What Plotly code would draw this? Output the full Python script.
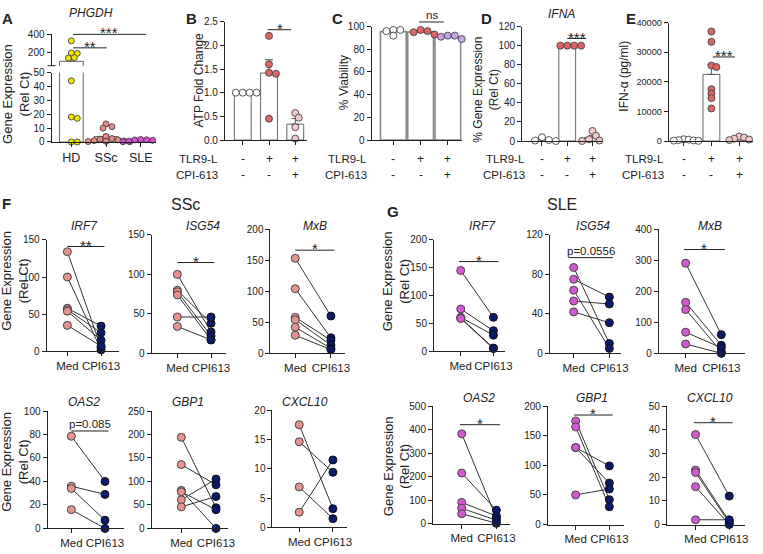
import numpy as np
import plotly.graph_objects as go

W, H = 763, 554
FONT = "Arial, Liberation Sans, Helvetica, sans-serif"
INK = "#222222"

# ======================= DATA =======================
A_LABELS = ["HD", "SSc", "SLE"]
A_HD = [330, 200, 195, 150, 145, 44, 18, 17, 0, 0]
A_SSC = [13, 11, 10, 4, 2.5, 2, 1.5, 1, 0.8, 0.5, 0.3, 0.2]
A_SLE = [1.8, 1.6, 1.5, 1.2, 0.6, 0.4, 0.2, 0.1]

TLR9L_ROW = ["-", "+", "+"]
CPI613_ROW = ["-", "-", "+"]

B_CTRL = [1.0, 1.0, 1.0, 1.0]
B_TLR9 = [2.2, 1.6, 1.42, 1.4, 0.45]
B_CPI = [0.57, 0.47, 0.27, 0.03]

C_CTRL = [97, 97, 96, 92]
C_TLR9 = [97, 96, 95, 93]
C_CPI = [92, 92, 91, 89]

D_CTRL = [4, 1, 0.5, 0]
D_TLR9 = [100, 100, 100, 100]
D_CPI = [10.5, 5.5, 1.7, 0.5, 0]

E_CTRL = [600, 450, 300, 200, 150, 50]
E_TLR9 = [37000, 33500, 25500, 25000, 17500, 16000, 14500, 11000]
E_CPI = [1500, 1200, 800, 500, 300, 200]

PAIR_LABELS = ["Med", "CPI613"]

SSC_IRF7_MED = [134, 100, 58, 56, 54, 35]
SSC_IRF7_CPI = [5, 2, 34, 25, 15, 7]
SSC_ISG54_MED = [100, 80, 78, 74, 46, 34]
SSC_ISG54_CPI = [27, 38, 22, 17, 46, 17]
SSC_MXB_MED = [153, 104, 58, 54, 42, 29]
SSC_MXB_CPI = [60, 25, 21, 13, 8, 6]
SSC_OAS2_MED = [78.5, 36, 34, 16]
SSC_OAS2_CPI = [40, 29, 7, 0]
SSC_GBP1_MED = [194, 136, 81, 78, 61, 46]
SSC_GBP1_CPI = [44, 93, 0, 40, 105, 68]
SSC_CXCL10_MED = [17.5, 14.6, 6.9, 2.6]
SSC_CXCL10_CPI = [3.2, 9.4, 1.5, 11.5]

SLE_IRF7_MED = [145, 76, 61, 60, 59]
SLE_IRF7_CPI = [61, 37, 29, 6, 5]
SLE_ISG54_MED = [87, 75, 64, 53, 42]
SLE_ISG54_CPI = [10, 57, 5, 50, 31]
SLE_MXB_MED = [290, 164, 141, 68, 30]
SLE_MXB_CPI = [60, 26, 5, 18, 0]
SLE_OAS2_MED = [382, 215, 90, 65, 42]
SLE_OAS2_CPI = [24, 57, 32, 14, 1]
SLE_GBP1_MED = [175, 165, 130, 130, 50]
SLE_GBP1_CPI = [42, 30, 99, 70, 60]
SLE_CXCL10_MED = [38, 23, 22, 16, 2]
SLE_CXCL10_CPI = [12, 1.4, 0.7, 0, 2]

# ======================= STYLE / HELPERS =======================
layout = dict(width=W, height=H, margin=dict(l=0, r=0, t=0, b=0),
              paper_bgcolor="white", plot_bgcolor="rgba(0,0,0,0)",
              showlegend=False, font=dict(family=FONT, color=INK))
traces, shapes, annots = [], [], []
AXN = {"n": 0}


def axstyle():
    return dict(showline=True, linecolor=INK, linewidth=1, ticks="outside",
                ticklen=4, tickwidth=1, tickcolor=INK, showgrid=False,
                zeroline=False, fixedrange=True, tickangle=0)


class Panel:
    def __init__(self, geom, yr, yticks, ncat, xtext=None, xfont=12,
                 yfmt=None, yfont=10):
        left, right, top, bottom, c0, c1 = geom
        AXN["n"] += 1
        i = AXN["n"]
        s = "" if i == 1 else str(i)
        self.xa, self.ya = "x" + s, "y" + s
        self.ppx = c1 - c0
        self.xr = [-(c0 - left) / self.ppx, (right - c0) / self.ppx]
        self.xd = [left / W, right / W]
        self.yd = [1 - bottom / H, 1 - top / H]
        self.yr = list(yr)
        self.ppy = (bottom - top) / (yr[1] - yr[0])
        xa = axstyle()
        xa.update(domain=self.xd, range=self.xr, anchor=self.ya,
                  tickvals=list(range(ncat)))
        if xtext is None:
            xa.update(showticklabels=False)
        else:
            xa.update(ticktext=xtext, tickfont=dict(size=xfont, color=INK))
        ya = axstyle()
        ya.update(domain=self.yd, range=self.yr, anchor=self.xa,
                  tickvals=yticks, tickfont=dict(size=yfont, color=INK))
        if yfmt:
            ya.update(tickformat=yfmt)
        layout["xaxis" + s] = xa
        layout["yaxis" + s] = ya

    def px(self, v):
        return self.xd[0] + (v - self.xr[0]) / (self.xr[1] - self.xr[0]) * (self.xd[1] - self.xd[0])

    def py(self, v):
        return self.yd[0] + (v - self.yr[0]) / (self.yr[1] - self.yr[0]) * (self.yd[1] - self.yd[0])


def swarm(vals, ppy, ppx, d):
    vals = np.asarray(vals, float)
    order = np.argsort(-vals, kind="stable")
    placed = []
    off = np.zeros(len(vals))
    steps = [0.0]
    for k in range(1, 40):
        steps += [k * d * 0.5, -k * d * 0.5]
    for i in order:
        y = vals[i] * ppy
        for st in steps:
            if all((st - a) ** 2 + (y - b) ** 2 >= (0.8 * d) ** 2 for a, b in placed):
                off[i] = st / ppx
                placed.append((st, y))
                break
    return off


def sem(v):
    v = np.asarray(v, float)
    return float(np.std(v, ddof=1) / np.sqrt(len(v))) if len(v) > 1 else 0.0


def text(x, y, t, size=12, **kw):
    d = dict(xref="paper", yref="paper", x=x / W, y=1 - y / H, text=t,
             showarrow=False, xanchor="center", yanchor="middle",
             font=dict(size=size, color=INK, family=FONT))
    d.update(kw)
    annots.append(d)


def sig_paper(X0, X1, Y, label):
    shapes.append(dict(type="line", xref="paper", yref="paper", x0=X0, x1=X1,
                       y0=Y, y1=Y, line=dict(color=INK, width=1)))
    if "*" in label:
        annots.append(dict(xref="paper", yref="paper", x=(X0 + X1) / 2, y=Y + 1.5 / H,
                           text=label, showarrow=False, xanchor="center", yanchor="middle",
                           font=dict(size=15, color=INK, family=FONT)))
    else:
        annots.append(dict(xref="paper", yref="paper", x=(X0 + X1) / 2, y=Y - 1.5 / H,
                           text=label, showarrow=False, xanchor="center", yanchor="bottom",
                           font=dict(size=11.5, color=INK, family=FONT)))


def sig(p, x0, x1, yv, label):
    sig_paper(p.px(x0), p.px(x1), p.py(yv), label)


def letter(x, y, t):
    text(x, y, "<b>%s</b>" % t, size=15, xanchor="left", yanchor="top")


def ytitle(x, y, t, size=12.5):
    text(x, y, t, size=size, textangle=-90)


# ======================= PANEL A (broken axis) =======================
pa = Panel((52, 157, 68, 139, 72, 107), [0, 50], [0, 10, 20, 30, 40, 50], 3,
           xtext=A_LABELS, xfont=12.5)
UP_TOP, UP_BOT = 29, 61
up_min = 400 - (UP_BOT - UP_TOP) * (200 / (48.3 - 29.3))
ya_up = axstyle()
ya_up.update(domain=[1 - UP_BOT / H, 1 - UP_TOP / H], range=[up_min, 400],
             anchor=pa.xa, tickvals=[200, 400], tickfont=dict(size=10, color=INK))
layout["yaxis99"] = ya_up
up_ppy = (UP_BOT - UP_TOP) / (400 - up_min)
shapes.append(dict(type="line", xref="paper", yref="paper", x0=48 / W, x1=56 / W,
                   y0=1 - UP_BOT / H, y1=1 - UP_BOT / H, line=dict(color=INK, width=1)))

a_groups = [A_HD, A_SSC, A_SLE]
a_cols = ["#f2e500", "#e8898a", "#d24fd0"]
for gi, (vals, col) in enumerate(zip(a_groups, a_cols)):
    m, e = float(np.mean(vals)), sem(vals)
    for ya in [pa.ya, "y99"]:
        traces.append(go.Bar(x=[gi], y=[m], width=24 / pa.ppx, xaxis=pa.xa, yaxis=ya,
                             marker=dict(color="white", line=dict(color="#666", width=1)),
                             error_y=dict(type="data", array=[e], arrayminus=[0], symmetric=False,
                                          color="#666", thickness=1, width=3)))
    lo = [v for v in vals if v <= 50]
    hi = [v for v in vals if v > 60]
    if lo:
        off = swarm(lo, pa.ppy, pa.ppx, 6)
        traces.append(go.Scatter(x=gi + off, y=lo, mode="markers", xaxis=pa.xa, yaxis=pa.ya,
                                 cliponaxis=False,
                                 marker=dict(size=6, color=col, line=dict(color="#333", width=0.8))))
    if hi:
        off = swarm(hi, up_ppy, pa.ppx, 6)
        traces.append(go.Scatter(x=gi + off, y=hi, mode="markers", xaxis=pa.xa, yaxis="y99",
                                 cliponaxis=False,
                                 marker=dict(size=6, color=col, line=dict(color="#333", width=0.8))))


def up_py(v):
    return (1 - UP_BOT / H) + (v - up_min) / (400 - up_min) * ((UP_BOT - UP_TOP) / H)


for x0, x1, yv, lab in [(0.05, 2.15, 400, "***"), (0.05, 1.02, 255, "**")]:
    sig_paper(pa.px(x0), pa.px(x1), up_py(yv), lab)
letter(0, 2, "A")
text(92, 7, "<i>PHGDH</i>", size=12)
ytitle(16, 90, "Gene Expression<br>(Rel Ct)", size=13)

# ======================= PANELS B-E =======================
RED, PINK, WHITE, LAV = "#e06464", "#f4c8c8", "#ffffff", "#c9a3e8"
bar_panels = [
    dict(L="B", groups=[B_CTRL, B_TLR9, B_CPI], cols=[WHITE, RED, PINK],
         geom=(227, 310, 16, 137, 245, 271.5), yr=[0, 2.5], yt=[0, 0.5, 1, 1.5, 2, 2.5], fmt=".1f",
         barw=17, bline=("#666", 1), title="ATP Fold Change", tx=201, ty=76, lx=186,
         sig=(0.95, 1.85, 2.33, "*"), rx=222, gene=None, yfont=10, sd=7),
    dict(L="C", groups=[C_CTRL, C_TLR9, C_CPI], cols=[WHITE, RED, LAV],
         geom=(375, 466, 21, 137, 397, 424.5), yr=[0, 100], yt=[0, 20, 40, 60, 80, 100], fmt=None,
         barw=26, bline=("#888", 1.6), title="% Viability", tx=347, ty=78, lx=333,
         sig=(0.95, 1.85, 104, "ns"), rx=372, gene=None, yfont=10, sd=7),
    dict(L="D", groups=[D_CTRL, D_TLR9, D_CPI], cols=[WHITE, RED, PINK],
         geom=(527, 608, 21, 138, 547, 572.5), yr=[0, 120], yt=[0, 20, 40, 60, 80, 100, 120], fmt=None,
         barw=17, bline=("#666", 1), title="% Gene Expression<br>(Rel Ct)", tx=491, ty=85, lx=483,
         sig=(1.0, 1.75, 107.5, "***"), rx=532, gene=("IFNA", 567), yfont=10, sd=7),
    dict(L="E", groups=[E_CTRL, E_TLR9, E_CPI], cols=[WHITE, RED, PINK],
         geom=(675, 760, 17, 138, 690, 718), yr=[0, 40000], yt=[0, 10000, 20000, 30000, 40000], fmt="d",
         barw=17, bline=("#666", 1), title="IFN-α (pg/ml)", tx=630, ty=72, lx=630,
         sig=(1.05, 1.85, 28400, "***"), rx=672, gene=None, yfont=9.2, sd=5),
]

for cfg in bar_panels:
    p = Panel(cfg["geom"], cfg["yr"], cfg["yt"], 3, yfmt=cfg["fmt"], yfont=cfg["yfont"])
    for gi, (vals, col) in enumerate(zip(cfg["groups"], cfg["cols"])):
        m, e = float(np.mean(vals)), sem(vals)
        traces.append(go.Bar(x=[gi], y=[m], width=cfg["barw"] / p.ppx, xaxis=p.xa, yaxis=p.ya,
                             marker=dict(color="white", line=dict(color=cfg["bline"][0], width=cfg["bline"][1])),
                             error_y=dict(type="data", array=[e], arrayminus=[0], symmetric=False,
                                          color="#555", thickness=1, width=4)))
        off = swarm(vals, p.ppy, p.ppx, cfg["sd"])
        traces.append(go.Scatter(x=gi + off, y=vals, mode="markers", xaxis=p.xa, yaxis=p.ya,
                                 cliponaxis=False,
                                 marker=dict(size=7, color=col, line=dict(color="#444", width=0.9))))
    sig(p, *cfg["sig"])
    letter(cfg["lx"], 2, cfg["L"])
    ytitle(cfg["tx"], cfg["ty"], cfg["title"], size=12)
    if cfg["gene"]:
        text(cfg["gene"][1], 8, "<i>%s</i>" % cfg["gene"][0], size=12)
    for row_y, row_lab, row_vals in [(156, "TLR9-L", TLR9L_ROW), (173, "CPI-613", CPI613_ROW)]:
        text(cfg["rx"], row_y, row_lab, size=11.5, xanchor="right")
        for ci, sv in enumerate(row_vals):
            annots.append(dict(xref="paper", yref="paper", x=p.px(ci), y=1 - row_y / H, text=sv,
                               showarrow=False, xanchor="center", yanchor="middle",
                               font=dict(size=12, color=INK, family=FONT)))

# ======================= PANELS F & G (paired) =======================
SALMON, NAVY, ORCHID = "#e8918f", "#0b1a6b", "#d656d6"
paired = [
    # SSc
    dict(g="IRF7", med=SSC_IRF7_MED, cpi=SSC_IRF7_CPI, geom=(47, 120, 239, 353, 68, 102),
         yr=[0, 150], yt=[0, 50, 100, 150], sig=(0, 1.1, 141, "**"), t=(85, 225), c=SALMON),
    dict(g="ISG54", med=SSC_ISG54_MED, cpi=SSC_ISG54_CPI, geom=(153, 228, 234, 355, 179, 213),
         yr=[0, 150], yt=[0, 50, 100, 150], sig=(0, 1.1, 115, "*"), t=(205, 225), c=SALMON),
    dict(g="MxB", med=SSC_MXB_MED, cpi=SSC_MXB_CPI, geom=(273, 348, 228, 355, 298, 334),
         yr=[0, 200], yt=[0, 50, 100, 150, 200], sig=(0, 1.1, 166, "*"), t=(318, 225), c=SALMON),
    dict(g="OAS2", med=SSC_OAS2_MED, cpi=SSC_OAS2_CPI, geom=(48, 125, 414, 534, 72, 106),
         yr=[0, 100], yt=[0, 20, 40, 60, 80, 100], sig=(0, 1.1, 83, "p=0.085"), t=(85, 405), c=SALMON),
    dict(g="GBP1", med=SSC_GBP1_MED, cpi=SSC_GBP1_CPI, geom=(153, 230, 414, 534, 183, 218),
         yr=[0, 250], yt=[0, 50, 100, 150, 200, 250], sig=None, t=(190, 405), c=SALMON),
    dict(g="CXCL10", med=SSC_CXCL10_MED, cpi=SSC_CXCL10_CPI, geom=(275, 350, 413, 533, 302, 336),
         yr=[0, 20], yt=[0, 5, 10, 15, 20], sig=None, t=(308, 405), c=SALMON),
    # SLE
    dict(g="IRF7", med=SLE_IRF7_MED, cpi=SLE_IRF7_CPI, geom=(438, 510, 239, 353, 465, 498),
         yr=[0, 200], yt=[0, 50, 100, 150, 200], sig=(-0.05, 1.15, 161, "*"), t=(487, 225), c=ORCHID),
    dict(g="ISG54", med=SLE_ISG54_MED, cpi=SLE_ISG54_CPI, geom=(555, 627, 234, 355, 579, 615),
         yr=[0, 120], yt=[0, 40, 80, 120], sig=(-0.15, 1.1, 97, "p=0.0556"), t=(598, 225), c=ORCHID),
    dict(g="MxB", med=SLE_MXB_MED, cpi=SLE_MXB_CPI, geom=(665, 752, 228, 355, 692, 728),
         yr=[0, 400], yt=[0, 100, 200, 300, 400], sig=(-0.05, 1.1, 334, "*"), t=(717, 225), c=ORCHID),
    dict(g="OAS2", med=SLE_OAS2_MED, cpi=SLE_OAS2_CPI, geom=(437, 515, 409, 529, 466, 501),
         yr=[0, 500], yt=[0, 100, 200, 300, 400, 500], sig=(-0.05, 1.1, 421, "*"), t=(483, 401), c=ORCHID),
    dict(g="GBP1", med=SLE_GBP1_MED, cpi=SLE_GBP1_CPI, geom=(553, 630, 409, 530, 581, 615),
         yr=[0, 200], yt=[0, 50, 100, 150, 200], sig=(-0.05, 1.1, 185, "*"), t=(597, 401), c=ORCHID),
    dict(g="CXCL10", med=SLE_CXCL10_MED, cpi=SLE_CXCL10_CPI, geom=(673, 752, 409, 530, 702, 736),
         yr=[0, 50], yt=[0, 10, 20, 30, 40, 50], sig=(-0.05, 1.1, 43, "*"), t=(717, 401), c=ORCHID),
]

for cfg in paired:
    p = Panel(cfg["geom"], cfg["yr"], cfg["yt"], 2, xtext=PAIR_LABELS, xfont=11.5, yfont=10)
    lx, ly = [], []
    for m, c in zip(cfg["med"], cfg["cpi"]):
        lx += [0, 1, None]
        ly += [m, c, None]
    traces.append(go.Scatter(x=lx, y=ly, mode="lines", xaxis=p.xa, yaxis=p.ya,
                             line=dict(color="#333", width=1)))
    traces.append(go.Scatter(x=[0] * len(cfg["med"]), y=cfg["med"], mode="markers", xaxis=p.xa,
                             yaxis=p.ya, cliponaxis=False,
                             marker=dict(size=8, color=cfg["c"], line=dict(color="#444", width=1))))
    traces.append(go.Scatter(x=[1] * len(cfg["cpi"]), y=cfg["cpi"], mode="markers", xaxis=p.xa,
                             yaxis=p.ya, cliponaxis=False,
                             marker=dict(size=8, color=NAVY, line=dict(color="#111", width=1))))
    if cfg["sig"]:
        sig(p, *cfg["sig"])
    text(cfg["t"][0], cfg["t"][1], "<i>%s</i>" % cfg["g"], size=12)

letter(0, 191, "F")
letter(389, 199, "G")
text(187, 203, "SSc", size=16)
text(567, 203, "SLE", size=16)
ytitle(15, 281, "Gene Expression<br>(Rel Ct)", size=13)
ytitle(15, 466, "Gene Expression<br>(Rel Ct)", size=13)
ytitle(400, 281, "Gene Expression<br>(Rel Ct)", size=13)
ytitle(400, 470, "Gene Expression<br>(Rel Ct)", size=13)

layout["shapes"] = shapes
layout["annotations"] = annots
fig = go.Figure(data=traces, layout=layout)
fig.write_html("out.html", config={"displayModeBar": False},
               post_script="document.body.style.margin='0px';document.body.style.overflow='hidden';")
